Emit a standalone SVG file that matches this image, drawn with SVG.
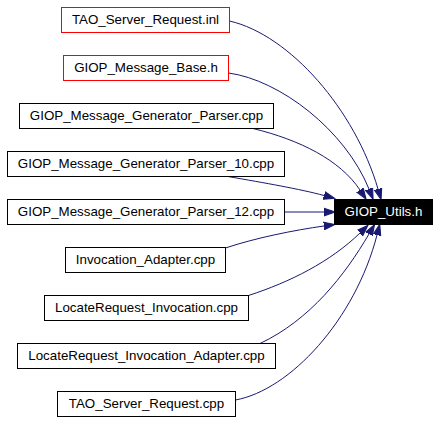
<svg xmlns="http://www.w3.org/2000/svg" width="440" height="421" viewBox="0 0 440 421">
<defs>
<style>
.node rect{fill:#ffffff;stroke:#000000;stroke-width:1}
.node.red rect{stroke:#ff0000}
.node text{font-family:"Liberation Sans",Arial,Helvetica,sans-serif;font-size:13.33px;fill:#000000;text-anchor:middle}
.node.target rect{fill:#000000;stroke:#000000}
.node.target text{fill:#ffffff}
.edge{fill:none;stroke:#191970;stroke-width:1;marker-end:url(#arrow)}
</style>
<marker id="arrow" markerUnits="userSpaceOnUse" markerWidth="12" markerHeight="10" viewBox="0 -4 11 8" refX="0" refY="0" orient="auto">
<path d="M0,-3.5 L10,0 L0,3.5 Z" fill="#191970" stroke="#191970" stroke-width="1"/>
</marker>
</defs>
<rect width="440" height="421" fill="#ffffff"/>
<g id="edges">
<path class="edge" d="M229.5,21 C290,35 355,110 378,189"/>
<path class="edge" d="M228.5,73 C280,80 345,130 369,189"/>
<path class="edge" d="M253,128.5 C300,140 340,160 360,190"/>
<path class="edge" d="M228,176.5 C265,183 300,189 324,195.5"/>
<path class="edge" d="M284.5,212 L324,212"/>
<path class="edge" d="M225.5,248 C255,238 295,230 324,226"/>
<path class="edge" d="M248.5,295.5 C290,282 330,262 360,233"/>
<path class="edge" d="M260,343.5 C310,320 345,275 369,234"/>
<path class="edge" d="M235.5,400 C290,390 355,320 377,235"/>
</g>
<g id="node-tao-server-request-inl" class="node red">
<rect x="61.5" y="7.5" width="168" height="25"/>
<text x="145.5" y="24.3">TAO_Server_Request.inl</text>
</g>
<g id="node-giop-message-base-h" class="node red">
<rect x="63.5" y="55.5" width="165" height="25"/>
<text x="146" y="72.3">GIOP_Message_Base.h</text>
</g>
<g id="node-giop-message-generator-parser-cpp" class="node">
<rect x="19.5" y="103.5" width="254" height="25"/>
<text x="146.5" y="120.3">GIOP_Message_Generator_Parser.cpp</text>
</g>
<g id="node-giop-message-generator-parser-10-cpp" class="node">
<rect x="7.5" y="151.5" width="277" height="25"/>
<text x="146" y="168.3">GIOP_Message_Generator_Parser_10.cpp</text>
</g>
<g id="node-giop-message-generator-parser-12-cpp" class="node">
<rect x="7.5" y="199.5" width="277" height="25"/>
<text x="146" y="216.3">GIOP_Message_Generator_Parser_12.cpp</text>
</g>
<g id="node-invocation-adapter-cpp" class="node">
<rect x="65.5" y="247.5" width="160" height="25"/>
<text x="145.5" y="264.3">Invocation_Adapter.cpp</text>
</g>
<g id="node-locaterequest-invocation-cpp" class="node">
<rect x="44.5" y="295.5" width="204" height="25"/>
<text x="146.5" y="312.3">LocateRequest_Invocation.cpp</text>
</g>
<g id="node-locaterequest-invocation-adapter-cpp" class="node">
<rect x="17.5" y="343.5" width="258" height="25"/>
<text x="146.5" y="360.3">LocateRequest_Invocation_Adapter.cpp</text>
</g>
<g id="node-tao-server-request-cpp" class="node">
<rect x="57.5" y="391.5" width="178" height="25"/>
<text x="146.5" y="408.3">TAO_Server_Request.cpp</text>
</g>
<g id="node-giop-utils-h" class="node target">
<rect x="334.5" y="199.5" width="98" height="25"/>
<text x="383.5" y="216.3">GIOP_Utils.h</text>
</g>
</svg>
